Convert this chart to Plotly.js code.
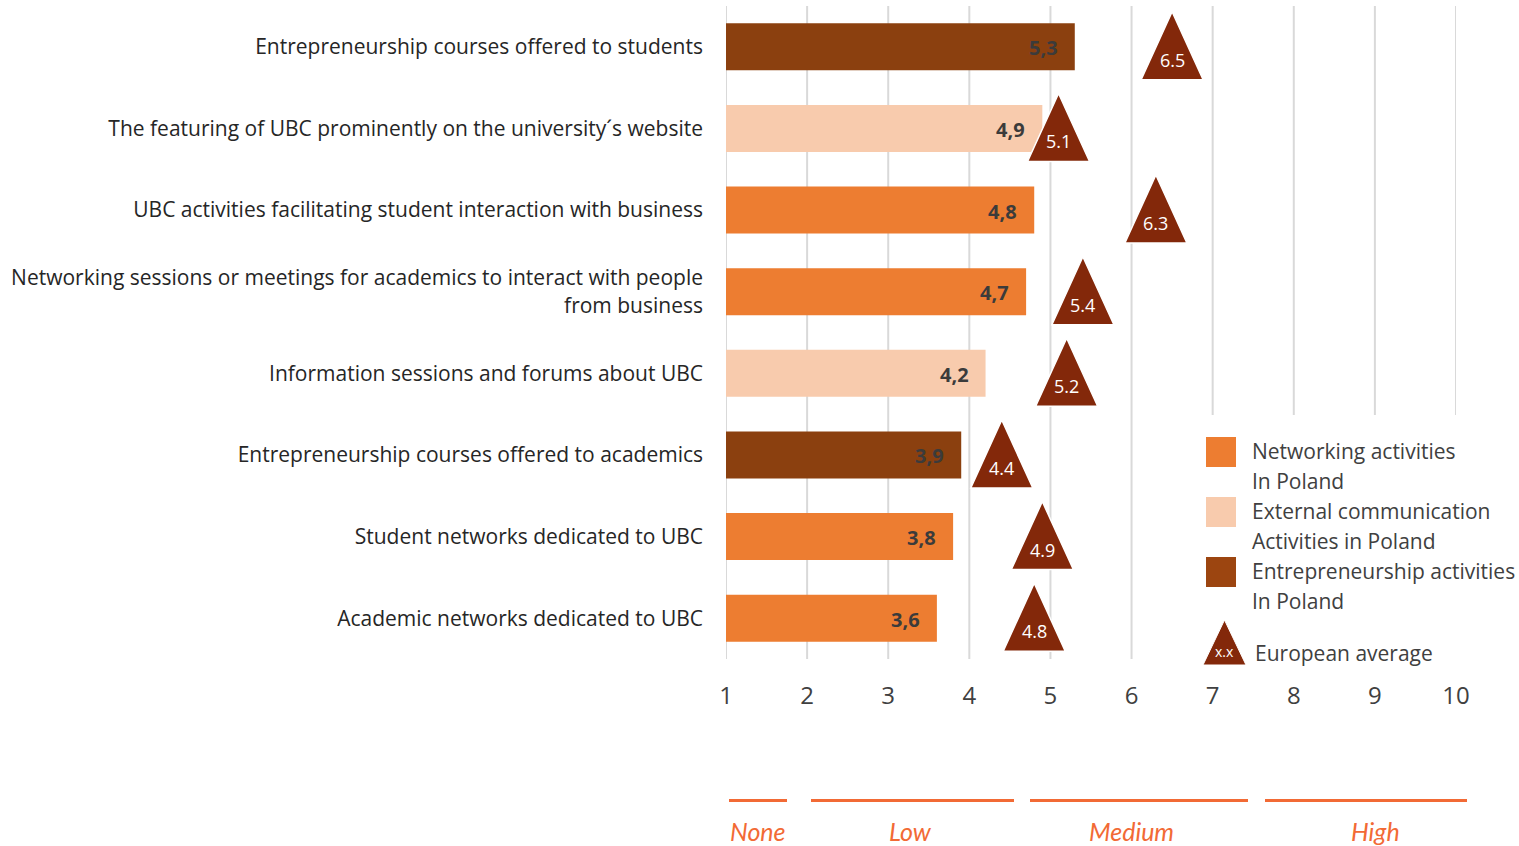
<!DOCTYPE html>
<html>
<head>
<meta charset="utf-8">
<script src="https://cdn.plot.ly/plotly-3.0.1.min.js"></script>
<style>
  html, body { margin: 0; padding: 0; background: #fff; }
  #chart { width: 1519px; height: 846px; }
</style>
</head>
<body>
<div id="chart"></div>
<script>
// ---------- data ----------
const categories = [
  "Entrepreneurship courses offered to students",
  "The featuring of UBC prominently on the university´s website",
  "UBC activities facilitating student interaction with business",
  "Networking sessions or meetings for academics to interact with people<br>from business",
  "Information sessions and forums about UBC",
  "Entrepreneurship courses offered to academics",
  "Student networks dedicated to UBC",
  "Academic networks dedicated to UBC"
];
const polandValues = [5.3, 4.9, 4.8, 4.7, 4.2, 3.9, 3.8, 3.6];
const activityGroup = ["Entrepreneurship", "External", "Networking", "Networking", "External", "Entrepreneurship", "Networking", "Networking"];
const europeanAverage = [6.5, 5.1, 6.3, 5.4, 5.2, 4.4, 4.9, 4.8];
const xTickValues = [1, 2, 3, 4, 5, 6, 7, 8, 9, 10];
const scaleLabels = ["None", "Low", "Medium", "High"];
const groupNames = ["Networking", "External", "Entrepreneurship"];
const groupLegend = [
  ["Networking activities", "In Poland"],
  ["External communication", "Activities in Poland"],
  ["Entrepreneurship activities", "In Poland"]
];
const europeanLegend = "European average";

// ---------- styles / layout positions ----------
const groupColors = { Networking: "#ED7D31", External: "#F8CBAD", Entrepreneurship: "#8B400F" };
const legendColors = { Networking: "#ED7D31", External: "#F8CBAD", Entrepreneurship: "#9C4510" };
const triColor = "#83280A";
const FONT = "'Open Sans', Lato, sans-serif";
const W = 1519, H = 846;
const M = { l: 726, r: 63, t: 6, b: 187 };
const plotW = W - M.l - M.r, plotH = H - M.t - M.b;
const PX = x => (x - M.l) / plotW;
const PY = y => (H - M.b - y) / plotH;
// pixel positions of the scale bands (decoration)
const scalePixStart = [729, 811, 1030, 1265];
const scalePixEnd = [787, 1014, 1248, 1467];
const scalePixLabel = [758, 910, 1131, 1375];
const gridShortFrom = 7;      // gridlines >= 7 stop above the legend
const gridShortBottomPx = 415;

const idx = categories.map((_, i) => i);

// bars, one trace per activity group
const traces = groupNames.map(g => {
  const ii = idx.filter(i => activityGroup[i] === g);
  return {
    type: "bar",
    orientation: "h",
    name: g,
    y: ii,
    x: ii.map(i => polandValues[i] - 1),
    base: 1,
    width: 0.576,
    marker: { color: groupColors[g] },
    hoverinfo: "skip",
    showlegend: false
  };
});

const shapes = [];
const annotations = [];

// vertical gridlines
xTickValues.forEach(v => {
  shapes.push({
    type: "line", xref: "x", yref: "paper", layer: "below",
    x0: v, x1: v, y0: v >= gridShortFrom ? PY(gridShortBottomPx) : 0, y1: 1,
    line: { color: "#D9D9D9", width: 2 }
  });
});

// value labels on bars
idx.forEach(i => {
  annotations.push({
    x: polandValues[i], y: i, xref: "x", yref: "y",
    xanchor: "right", yanchor: "middle", xshift: -15, yshift: -1,
    text: "<b>" + polandValues[i].toFixed(1).replace(".", ",") + "</b>",
    showarrow: false,
    font: { family: FONT, size: 20, color: "#3B3B3B" }
  });
});

// European average triangles
idx.forEach(i => {
  shapes.push({
    type: "path",
    xref: "x", yref: "y",
    xsizemode: "pixel", ysizemode: "pixel",
    xanchor: europeanAverage[i], yanchor: i,
    path: "M -31,-33 L 31,-33 L 0,35 Z",
    fillcolor: triColor,
    line: { color: "#FFFFFF", width: 1.5 },
    layer: "above"
  });
  annotations.push({
    x: europeanAverage[i], y: i, xref: "x", yref: "y",
    yshift: -13, showarrow: false,
    text: europeanAverage[i].toFixed(1),
    font: { family: FONT, size: 18, color: "#FFFFFF" }
  });
});

// custom legend
const legendSquareTop = [437, 497, 557];
groupNames.forEach((g, k) => {
  const top = legendSquareTop[k];
  shapes.push({
    type: "rect", xref: "paper", yref: "paper",
    x0: PX(1206), x1: PX(1236), y0: PY(top + 30), y1: PY(top),
    fillcolor: legendColors[g], line: { width: 0 }
  });
  groupLegend[k].forEach((line, j) => {
    annotations.push({
      xref: "paper", yref: "paper",
      x: PX(1250), y: PY(top + 14 + j * 29.5),
      xanchor: "left", yanchor: "middle", showarrow: false,
      text: line,
      font: { family: FONT, size: 21, color: "#404040" }
    });
  });
});
shapes.push({
  type: "path", xref: "paper", yref: "paper",
  path: "M " + PX(1203) + "," + PY(665) + " L " + PX(1246) + "," + PY(665) + " L " + PX(1224.5) + "," + PY(620) + " Z",
  fillcolor: triColor, line: { color: "#FFFFFF", width: 1 }
});
annotations.push({
  xref: "paper", yref: "paper", x: PX(1224.5), y: PY(651),
  xanchor: "center", yanchor: "middle", showarrow: false,
  text: "x.x", font: { family: FONT, size: 14, color: "#FFFFFF" }
});
annotations.push({
  xref: "paper", yref: "paper", x: PX(1253), y: PY(653),
  xanchor: "left", yanchor: "middle", showarrow: false,
  text: europeanLegend, font: { family: FONT, size: 21, color: "#404040" }
});

// scale bands under the axis
scaleLabels.forEach((lab, k) => {
  shapes.push({
    type: "line", xref: "paper", yref: "paper",
    x0: PX(scalePixStart[k]), x1: PX(scalePixEnd[k]), y0: PY(800.5), y1: PY(800.5),
    line: { color: "#F26A35", width: 3 }
  });
  annotations.push({
    xref: "paper", yref: "paper",
    x: PX(scalePixLabel[k]), y: PY(831),
    xanchor: "center", yanchor: "middle", showarrow: false,
    text: "<i>" + lab + "</i>",
    font: { family: "Lato, 'Open Sans', sans-serif", size: 25, color: "#F26A35" }
  });
});

const layout = {
  width: W, height: H,
  margin: M,
  paper_bgcolor: "#FFFFFF",
  plot_bgcolor: "rgba(0,0,0,0)",
  showlegend: false,
  xaxis: {
    range: [1, 10],
    tickvals: xTickValues,
    ticktext: xTickValues.map(String),
    showgrid: false,
    zeroline: false, showline: false,
    ticks: "", ticklabelstandoff: 20,
    tickfont: { family: FONT, size: 24, color: "#404040" },
    fixedrange: true
  },
  yaxis: {
    range: [7.5, -0.5],
    tickvals: idx,
    ticktext: categories,
    showgrid: false, zeroline: false, showline: false,
    ticks: "", ticklabelstandoff: 22,
    tickfont: { family: FONT, size: 21, color: "#262626" },
    fixedrange: true
  },
  shapes: shapes,
  annotations: annotations,
  font: { family: FONT }
};

Plotly.newPlot("chart", traces, layout, { displayModeBar: false, staticPlot: true });
</script>
</body>
</html>
